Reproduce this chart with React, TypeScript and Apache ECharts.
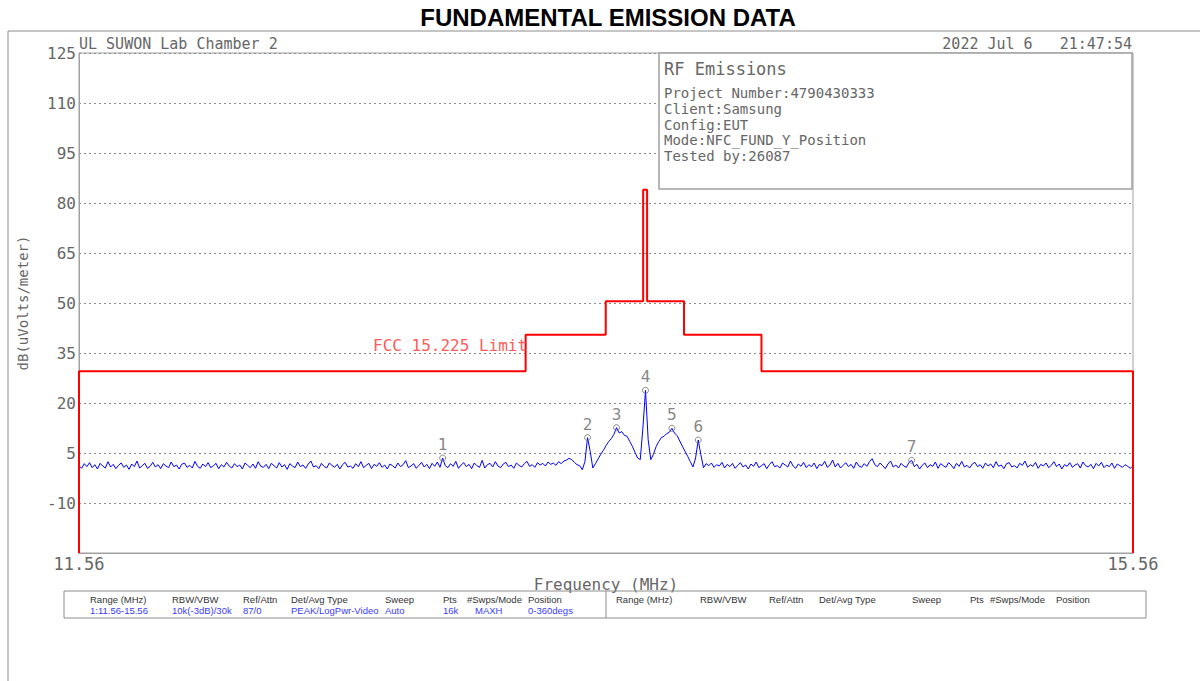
import React, { useEffect, useRef } from "react";
import * as echarts from "echarts";

// ---------- DATA ----------
const FREQ_MIN = 11.56;
const FREQ_MAX = 15.56;
const TRACE_START = 11.56;
const TRACE_STEP = 0.01;

// Measured emission trace, dB(uV/m), one value per 0.01 MHz from 11.56 to 15.56
const traceLevels = [
  1.2, 0.4, 1.8, 0.9, 2.1, 0.6, 1.5, 0.2, 1.9, 1.1, 0.5, 2.4, 0.8, 1.6, 0.3, 1.3, 2.0, 0.7, 1.4, 0.1,
  1.7, 0.9, 2.6, 0.5, 1.2, 1.9, 0.4, 1.0, 2.2, 0.8, 1.5, 0.3, 1.8, 1.1, 0.6, 2.3, 0.9, 1.4, 0.2, 1.6,
  2.0, 0.7, 1.3, 0.5, 2.5, 1.0, 0.4, 1.7, 0.9, 2.1, 0.6, 1.2, 1.9, 0.3, 1.5, 0.8, 2.2, 1.1, 0.5, 1.8,
  0.9, 1.4, 0.2, 2.0, 1.3, 0.6, 1.7, 0.4, 2.4, 1.0, 0.7, 1.6, 0.3, 1.9, 1.2, 0.5, 2.1, 0.8, 1.5, 0.1,
  1.8, 1.1, 0.6, 2.3, 0.9, 1.4, 0.4, 1.7, 2.6, 0.8, 1.2, 0.3, 1.9, 1.0, 0.5, 2.0, 1.3, 0.7, 1.6, 0.2,
  1.5, 2.2, 0.8, 1.1, 0.4, 1.8, 0.9, 2.4, 0.6, 1.3, 1.9, 0.3, 1.6, 1.0, 2.1, 0.7, 1.4, 0.2, 1.7, 1.2,
  0.5, 2.0, 0.9, 1.5, 2.7, 0.6, 1.1, 1.8, 0.4, 1.3, 2.2, 0.8, 1.6, 0.3, 1.9, 1.0, 2.3, 0.7, 3.5, 1.2,
  0.6, 1.8, 1.0, 2.5, 0.4, 1.4, 2.1, 0.9, 1.6, 0.3, 2.0, 1.2, 0.7, 2.8, 0.5, 1.5, 1.9, 0.8, 2.4, 1.1,
  0.6, 1.7, 2.2, 0.9, 1.4, 0.4, 2.0, 1.3, 0.8, 1.8, 2.5, 1.0, 1.5, 0.7, 2.1, 1.4, 1.9, 1.1, 2.3, 1.6,
  2.0, 1.3, 2.4, 1.8, 2.6, 2.9, 3.4, 3.0, 2.2, 1.5, 1.2, 0.0, 2.4, 9.6, 5.5, 0.5, 1.8, 3.2, 4.6, 5.8,
  7.2, 8.4, 9.3, 10.6, 12.6, 11.0, 11.4, 10.3, 10.0, 8.5, 7.0, 5.2, 3.5, 3.0, 12.5, 23.8, 9.0, 3.0, 4.6, 6.9,
  8.4, 9.6, 10.0, 10.8, 11.2, 12.4, 11.0, 10.2, 8.6, 7.0, 5.5, 4.0, 2.4, 0.8, 3.5, 8.9, 4.5, 0.6, 1.8, 1.2,
  2.0, 0.7, 1.5, 1.1, 2.2, 0.5, 1.6, 0.9, 1.9, 0.4, 1.3, 2.1, 0.8, 1.4, 0.2, 1.7, 1.0, 2.3, 0.6, 1.2,
  1.8, 0.3, 1.5, 2.4, 0.9, 1.2, 0.5, 2.0, 1.4, 0.8, 2.6, 1.1, 0.4, 1.7, 1.0, 2.2, 0.6, 1.5, 0.9, 2.0,
  0.3, 1.6, 1.2, 2.5, 0.7, 1.4, 2.9, 0.8, 1.9, 0.5, 1.3, 2.1, 0.9, 1.6, 0.4, 2.3, 1.1, 0.7, 1.8, 1.0,
  2.4, 3.3, 1.5, 0.9, 2.0, 1.2, 0.3, 1.7, 2.6, 0.8, 1.4, 0.5, 1.9, 1.1, 0.7, 2.2, 2.8, 0.9, 1.6, 0.2,
  1.3, 2.0, 0.6, 1.5, 1.0, 2.3, 0.4, 1.8, 1.2, 0.7, 2.1, 1.4, 0.3, 1.9, 1.0, 2.5, 0.8, 1.3, 0.5, 1.7,
  2.2, 0.9, 1.5, 0.4, 2.0, 1.1, 1.7, 0.6, 2.4, 1.0, 1.4, 0.3, 1.8, 2.1, 0.8, 1.2, 0.5, 1.9, 1.3, 2.6,
  0.7, 1.5, 1.0, 2.2, 0.4, 1.6, 1.1, 2.0, 0.6, 1.3, 2.4, 0.9, 1.7, 0.2, 1.5, 1.0, 2.1, 0.7, 1.4, 1.8,
  0.5, 2.3, 1.2, 0.8, 1.6, 0.3, 1.9, 1.1, 2.2, 0.6, 1.4, 0.9, 2.0, 0.4, 1.7, 1.2, 0.7, 1.5, 1.0, 0.4,
  1.2,
];

// FCC 15.225 limit line (MHz, dB(uV/m))
const limitFreqs = [11.56, 11.56, 13.255, 13.255, 13.559, 13.559, 13.701, 13.701, 13.716, 13.716, 13.856, 13.856, 14.15, 14.15, 15.56, 15.56];
const limitLevels = [-25, 29.5, 29.5, 40.5, 40.5, 50.5, 50.5, 84, 84, 50.5, 50.5, 40.5, 40.5, 29.5, 29.5, -25];

// Markers (index into trace) and their labels
const markerIndices = [138, 193, 204, 215, 225, 235, 316];
const markerNames = ["1", "2", "3", "4", "5", "6", "7"];

const Y_MIN = -25;
const Y_MAX = 125;
const Y_STEP = 15;

const chartTitle = "FUNDAMENTAL EMISSION DATA";
const headerLeft = "UL SUWON Lab Chamber 2";
const headerRight = "2022 Jul 6   21:47:54";
const infoTitle = "RF Emissions";
const infoLines = [
  "Project Number:4790430333",
  "Client:Samsung",
  "Config:EUT",
  "Mode:NFC_FUND_Y_Position",
  "Tested by:26087",
];
const limitLabel = "FCC 15.225 Limit";
const xAxisTitle = "Frequency (MHz)";
const yAxisTitle = "dB(uVolts/meter)";
const tableHeaders = ["Range (MHz)", "RBW/VBW", "Ref/Attn", "Det/Avg Type", "Sweep", "Pts", "#Swps/Mode", "Position"];
const tableValues = ["1:11.56-15.56", "10k(-3dB)/30k", "87/0", "PEAK/LogPwr-Video", "Auto", "16k", "MAXH", "0-360degs"];

// ---------- COMPONENT ----------
export default function App() {
  const ref = useRef<HTMLDivElement>(null);

  useEffect(() => {
    if (!ref.current) return;
    const chart = echarts.init(ref.current, null, { renderer: "svg" });

    const traceData = traceLevels.map((v, i) => [+(TRACE_START + i * TRACE_STEP).toFixed(2), v]);
    const limitData = limitFreqs.map((f, i) => [f, limitLevels[i]]);
    const markerData = markerIndices.map((idx, k) => ({ value: traceData[idx], name: markerNames[k] }));

    const mono = '"DejaVu Sans Mono", monospace';
    const grey = "#666";
    const frameGrey = "#8c8c8c";

    const leftCols = [90, 172, 243, 291, 385, 443, 467, 528];
    const leftValCols = [90, 172, 243, 291, 385, 443, 475, 528];
    const rightCols = [616, 700, 769, 819, 912, 970, 990, 1056];

    const graphics: any[] = [
      { type: "line", z: 50, shape: { x1: 8, y1: 31, x2: 1200, y2: 31 }, style: { stroke: frameGrey, lineWidth: 1 } },
      { type: "line", z: 50, shape: { x1: 8, y1: 31, x2: 8, y2: 681 }, style: { stroke: frameGrey, lineWidth: 1 } },
      {
        type: "text", z: 50, x: 608, y: 17,
        style: { text: chartTitle, fill: "#000", font: 'bold 24px "Liberation Sans", Arial, sans-serif', align: "center", verticalAlign: "middle" },
      },
      {
        type: "text", z: 50, x: 79, y: 44,
        style: { text: headerLeft, fill: grey, font: `15px ${mono}`, align: "left", verticalAlign: "middle" },
      },
      {
        type: "text", z: 50, x: 1132, y: 44,
        style: { text: headerRight, fill: grey, font: `15px ${mono}`, align: "right", verticalAlign: "middle" },
      },
      {
        type: "rect", z: 60, shape: { x: 659, y: 53, width: 473, height: 136 },
        style: { fill: "#fff", stroke: "#a0a0a0", lineWidth: 1.5 },
      },
      {
        type: "text", z: 61, x: 664, y: 69,
        style: { text: infoTitle, fill: grey, font: `17px ${mono}`, align: "left", verticalAlign: "middle" },
      },
      ...infoLines.map((t, i) => ({
        type: "text", z: 61, x: 664, y: 93 + i * 15.8,
        style: { text: t, fill: grey, font: `14px ${mono}`, align: "left", verticalAlign: "middle" },
      })),
      {
        type: "text", z: 50, x: 373, y: 345,
        style: { text: limitLabel, fill: "#ff5a5a", font: `16px ${mono}`, align: "left", verticalAlign: "middle" },
      },
      {
        type: "rect", z: 50, shape: { x: 64, y: 591, width: 1082, height: 27 },
        style: { fill: "none", stroke: frameGrey, lineWidth: 1 },
      },
      { type: "line", z: 50, shape: { x1: 606, y1: 591, x2: 606, y2: 618 }, style: { stroke: frameGrey, lineWidth: 1 } },
      ...tableHeaders.map((t, i) => ({
        type: "text", z: 50, x: leftCols[i], y: 599,
        style: { text: t, fill: "#333", font: '9.5px "Liberation Sans", Arial, sans-serif', align: "left", verticalAlign: "middle" },
      })),
      ...tableValues.map((t, i) => ({
        type: "text", z: 50, x: leftValCols[i], y: 610,
        style: { text: t, fill: "#3a3aff", font: '9.5px "Liberation Sans", Arial, sans-serif', align: "left", verticalAlign: "middle" },
      })),
      ...tableHeaders.map((t, i) => ({
        type: "text", z: 50, x: rightCols[i], y: 599,
        style: { text: t, fill: "#333", font: '9.5px "Liberation Sans", Arial, sans-serif', align: "left", verticalAlign: "middle" },
      })),
    ];

    chart.setOption({
      animation: false,
      backgroundColor: "#fff",
      grid: {
        left: 79, top: 53, width: 1054, height: 500,
        show: true, borderColor: "#a0a0a0", borderWidth: 1, backgroundColor: "transparent",
      },
      xAxis: {
        type: "value",
        min: FREQ_MIN,
        max: FREQ_MAX,
        interval: FREQ_MAX - FREQ_MIN,
        name: xAxisTitle,
        nameLocation: "middle",
        nameGap: 22,
        nameTextStyle: { color: grey, fontFamily: mono, fontSize: 16 },
        axisLine: { show: true, onZero: false, lineStyle: { color: "#a0a0a0", width: 1 } },
        axisTick: { show: false },
        splitLine: { show: false },
        axisLabel: {
          color: grey, fontFamily: mono, fontSize: 17, margin: 2,
          showMinLabel: true, showMaxLabel: true,
          formatter: (v: number) => v.toFixed(2),
        },
      },
      yAxis: {
        type: "value",
        min: Y_MIN,
        max: Y_MAX,
        interval: Y_STEP,
        name: yAxisTitle,
        nameLocation: "middle",
        nameGap: 49,
        nameTextStyle: { color: grey, fontFamily: mono, fontSize: 14 },
        axisLine: { show: true, onZero: false, lineStyle: { color: "#a0a0a0", width: 1 } },
        axisTick: { show: false },
        splitLine: { show: true, lineStyle: { color: "#8a8a8a", type: [2, 3], width: 1 } },
        axisLabel: {
          color: grey, fontFamily: mono, fontSize: 16, margin: 3,
          formatter: (v: number) => (v === Y_MIN ? "" : String(v)),
        },
      },
      series: [
        {
          type: "line",
          name: "Trace",
          data: traceData,
          symbol: "none",
          silent: true,
          lineStyle: { color: "#0000ff", width: 1 },
          z: 3,
        },
        {
          type: "line",
          name: "Limit",
          data: limitData,
          symbol: "none",
          silent: true,
          lineStyle: { color: "#ff0000", width: 2 },
          z: 4,
        },
        {
          type: "scatter",
          name: "Markers",
          data: markerData,
          symbol: "circle",
          symbolSize: 6,
          silent: true,
          itemStyle: { color: "rgba(255,255,255,0)", borderColor: "#707070", borderWidth: 1 },
          label: {
            show: true,
            position: "top",
            distance: 2,
            formatter: (p: any) => p.name,
            color: grey,
            fontFamily: mono,
            fontSize: 16,
          },
          z: 5,
        },
      ],
      graphic: graphics,
    });

    return () => chart.dispose();
  }, []);

  return <div ref={ref} style={{ position: "absolute", left: 0, top: 0, width: 1200, height: 681 }} />;
}
